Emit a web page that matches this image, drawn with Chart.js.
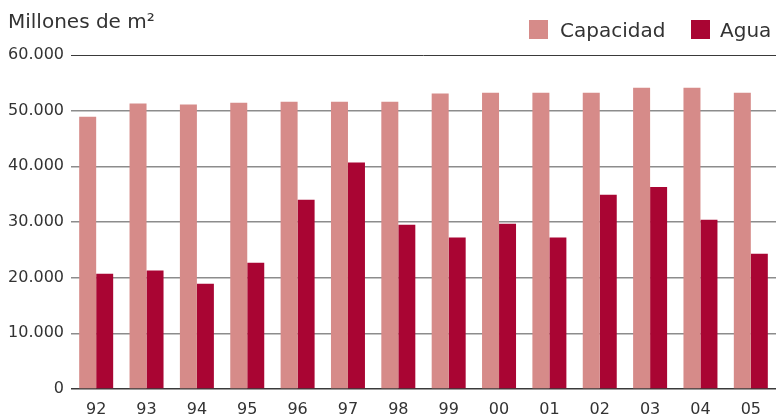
<!DOCTYPE html>
<html>
<head>
<meta charset="utf-8">
<script src="https://cdn.jsdelivr.net/npm/chart.js@4"></script>
<style>
  body { margin: 0; background: #fff; font-family: "DejaVu Sans", sans-serif; color: #333; }
  #wrap { position: relative; width: 776px; height: 419px; }
  .txt { position: absolute; font-size: 20px; line-height: 20px; white-space: nowrap; }
  .sw { position: absolute; width: 19px; height: 19px; top: 20px; }
</style>
</head>
<body>
<div id="wrap">
  <canvas id="chart"></canvas>
  <div class="txt" style="left:8px; top:11px;">Millones de m²</div>
  <div class="sw" style="left:529px; background:#d68b89;"></div>
  <div class="txt" style="left:560px; top:20px;">Capacidad</div>
  <div class="sw" style="left:691px; background:#a90533;"></div>
  <div class="txt" style="left:720px; top:20px;">Agua</div>
</div>
<script>
// values, millones de m²
const years = ['92', '93', '94', '95', '96', '97', '98', '99', '00', '01', '02', '03', '04', '05'];
const capacidad = [48900, 51300, 51100, 51400, 51600, 51600, 51600, 53100, 53200, 53200, 53200, 54100, 54100, 53200];
const agua = [20700, 21300, 18900, 22700, 34000, 40700, 29500, 27200, 29700, 27200, 34900, 36300, 30400, 24300];
const yMin = 0;
const yMax = 60000;
const yStep = 10000;

const fmt = v => String(v).replace(/\B(?=(\d{3})+(?!\d))/g, '.');

new Chart(document.getElementById('chart'), {
    type: 'bar',
    data: {
        labels: years,
        datasets: [
            { label: 'Capacidad', data: capacidad, backgroundColor: '#d68b89' },
            { label: 'Agua', data: agua, backgroundColor: '#a90533' }
        ]
    },
    options: {
        responsive: true,
        maintainAspectRatio: false,
        animation: false,
        layout: { padding: { top: 55, left: 8, right: 0, bottom: 0 } },
        datasets: { bar: { categoryPercentage: 0.675, barPercentage: 1.0 } },
        plugins: { legend: { display: false }, tooltip: { enabled: false } },
        scales: {
            x: {
                grid: { display: false, drawTicks: false },
                border: { display: false },
                ticks: { color: '#333', padding: 11, maxRotation: 0, font: { family: 'DejaVu Sans', size: 16 } },
                afterFit: s => { s.height = 30; }
            },
            y: {
                min: yMin,
                max: yMax,
                border: { display: false },
                grid: {
                    drawTicks: false,
                    color: c => (c.tick.value === yMax || c.tick.value === yMin) ? '#3a3a3a' : '#8c8c8c',
                    lineWidth: c => c.tick.value === yMax ? 1 : 1.5
                },
                ticks: {
                    stepSize: yStep,
                    color: '#333',
                    padding: 7,
                    font: { family: 'DejaVu Sans', size: 16 },
                    callback: v => fmt(v)
                },
                afterFit: s => { s.width = 63; }
            }
        }
    }
});
</script>
</body>
</html>
